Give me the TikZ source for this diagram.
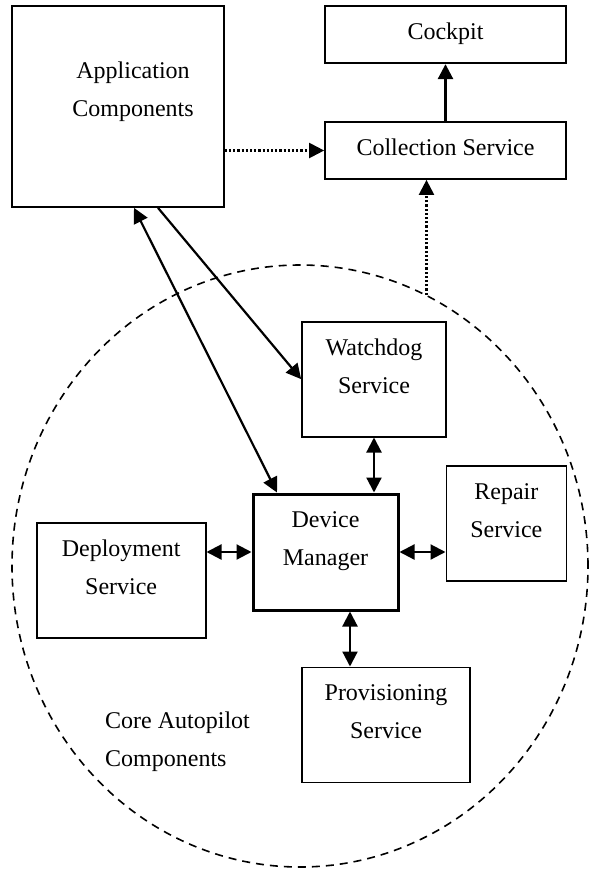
\documentclass[tikz,border=0pt]{standalone}
\usepackage{fontspec}
\setmainfont{Liberation Serif}
\usetikzlibrary{positioning,arrows.meta,shapes.geometric}

\begin{document}
\begin{tikzpicture}[x=1pt,y=-1pt,font=\fontsize{24}{38}\selectfont,>={Triangle[length=15pt,width=15pt]},
 box/.style={draw,line width=1.7pt,align=center,inner sep=2pt,minimum height=115pt,execute at end node={\rule[-#1]{0pt}{#1}}},
 box/.default=26pt,
 slab/.style={draw,line width=1.7pt,inner sep=2pt,minimum width=241pt,minimum height=57pt,text height=16.5pt,text depth=7pt},
 wire/.style={line width=2.2pt},
 dotline/.style={dotted,line width=2.2pt}]
\useasboundingbox (0,0) rectangle (592,871);
\node[ellipse,draw,line width=1.6pt,dash pattern=on 8pt off 6pt,minimum width=576pt,minimum height=602pt,inner sep=0pt] (core) at (300,566) {};
\node[box=34pt,minimum width=212pt,minimum height=201pt] (app) at (118,106.5) {\hspace*{30pt}Application\\\hspace*{30pt}Components};
\node[slab] (coll) at (445.5,150.5) {Collection Service};
\node[slab,above=57pt of coll] (cock) {Cockpit};
\node[box,minimum width=145pt,minimum height=116pt,line width=3pt] (dm) at (325.5,552) {Device\\Manager};
\node[box,minimum width=144pt,above=55pt of dm,xshift=48.5pt] (wd) {Watchdog\\Service};
\node[box,minimum width=120pt,right=46pt of dm,yshift=28.5pt] (rep) {Repair\\Service};
\node[box,minimum width=169pt,left=45pt of dm,yshift=-28.5pt] (dep) {Deployment\\Service};
\node[box,minimum width=168pt,below=55pt of dm,xshift=60.5pt] (prov) {Provisioning\\Service};
\node[anchor=north west,align=left,inner sep=0pt] (lbl) at (105,711.6) {Core Autopilot\\Components};
\draw[dotline,->] (app.east |- coll.west) -- (coll.west);
\draw[wire,line width=2.7pt,->] (coll) -- (cock);
\draw[dotline,->] (core.65.7) -- (core.65.7 |- coll.south);
\draw[wire,->] ([xshift=40pt]app.south) -- (wd.west);
\draw[wire,<->] ([xshift=16pt]app.south) -- ([xshift=-48.5pt]dm.north);
\draw[wire,<->] (wd.south) -- (wd.south |- dm.north);
\draw[wire,<->] (dm.east) -- (dm.east -| rep.west);
\draw[wire,<->] (dep.east |- dm.west) -- (dm.west);
\draw[wire,<->] ([xshift=24.5pt]dm.south) -- ([xshift=24.5pt]dm.south |- prov.north);
\end{tikzpicture}
\end{document}
